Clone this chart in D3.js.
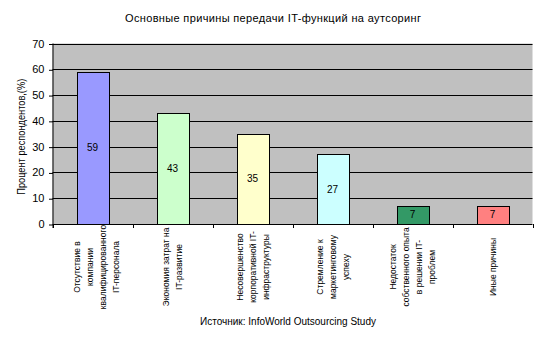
<!DOCTYPE html>
<html>
<head>
<meta charset="utf-8">
<script src="https://cdn.jsdelivr.net/npm/d3@7"></script>
<style>
  html, body { margin: 0; padding: 0; background: #ffffff; }
  svg { display: block; font-family: Arial, "Liberation Sans", sans-serif; }
</style>
</head>
<body>
<svg id="chart" width="550" height="337"></svg>
<script>
const categories = [
  ["Отсутствие в", "компании", "квалифицированного", "IT-персонала"],
  ["Экономия затрат на", "IT-развитие"],
  ["Несовершенство", "корпоративной IT-", "инфраструктуры"],
  ["Стремление к", "маркетинговому", "успеху"],
  ["Недостаток", "собственного опыта", "в решении IT-", "проблем"],
  ["Иные причины"]
];
const values = [59, 43, 35, 27, 7, 7];
const barColors = ["#9999FF", "#CCFFCC", "#FFFFCC", "#CCFFFF", "#339966", "#FF8080"];
const yTicks = [0, 10, 20, 30, 40, 50, 60, 70];
const titleText = "Основные причины передачи IT-функций на аутсоринг";
const yLabel = "Процент респондентов,(%)";
const sourceText = "Источник: InfoWorld Outsourcing Study";

const svg = d3.select("#chart");
const pLeft = 52.5, pRight = 532.5, pTop = 43.5, pBottom = 224;

const x = d3.scaleBand().domain(d3.range(categories.length)).range([pLeft, pRight]).paddingInner(0.6).paddingOuter(0.3);
const xCat = d3.scaleBand().domain(d3.range(categories.length)).range([pLeft, pRight]);
const y = d3.scaleLinear().domain([0, 70]).range([pBottom, pTop]);

// plot background
svg.append("rect").attr("x", pLeft).attr("y", pTop).attr("width", pRight - pLeft).attr("height", pBottom - pTop).attr("fill", "#C0C0C0");

// gridlines
svg.append("g").selectAll("line").data(yTicks.filter(d => d > 0)).join("line")
  .attr("x1", pLeft).attr("x2", pRight)
  .attr("y1", d => Math.round(y(d)) + 0.5).attr("y2", d => Math.round(y(d)) + 0.5)
  .attr("stroke", "#000").attr("stroke-width", 1);

// bars
svg.append("g").selectAll("rect").data(values).join("rect")
  .attr("x", (d, i) => Math.round(x(i)) + 0.5)
  .attr("y", d => Math.round(y(d)) + 0.5)
  .attr("width", Math.round(x.bandwidth()))
  .attr("height", d => Math.round(y(0)) - Math.round(y(d)))
  .attr("fill", (d, i) => barColors[i])
  .attr("stroke", "#000").attr("stroke-width", 1);

// value labels
svg.append("g").selectAll("text").data(values).join("text")
  .attr("x", (d, i) => x(i) + x.bandwidth() / 2)
  .attr("y", d => (y(d) + y(0)) / 2 + 3.5)
  .attr("text-anchor", "middle").attr("font-size", 10).attr("fill", "#000")
  .text(d => d);

// y axis
const yAxis = d3.axisLeft(y).tickValues(yTicks).tickSize(4).tickPadding(3).tickFormat(d3.format("d"));
const gy = svg.append("g").attr("transform", `translate(${pLeft},0)`).call(yAxis);
gy.select(".domain").attr("d", `M0.5,${pTop}V${pBottom + 4}`).attr("stroke", "#000");
gy.selectAll(".tick line").attr("stroke", "#000").attr("transform", "translate(0.5,0.5)");
gy.selectAll(".tick text").attr("font-size", 11).attr("font-family", "Arial, 'Liberation Sans', sans-serif").attr("fill", "#000").attr("dx", -1);

// x axis
const xAxis = d3.axisBottom(xCat).tickValues([]).tickSizeOuter(0);
const gx = svg.append("g").attr("transform", `translate(0,${pBottom})`).call(xAxis);
gx.select(".domain").attr("stroke", "#000").attr("d", `M${pLeft},0.5H${pRight}`);
gx.append("g").selectAll("line").data(d3.range(categories.length + 1)).join("line")
  .attr("x1", i => Math.round(pLeft + i * xCat.step()) + 0.5)
  .attr("x2", i => Math.round(pLeft + i * xCat.step()) + 0.5)
  .attr("y1", 0).attr("y2", 4).attr("stroke", "#000");

// category labels
const catG = svg.append("g");
categories.forEach((lines, i) => {
  const cx = xCat(i) + xCat.bandwidth() / 2 + (i === 0 ? 4 : 0);
  const t = catG.append("text")
    .attr("transform", `translate(${cx},267) rotate(-90)`)
    .attr("text-anchor", "middle").attr("font-size", 8.5).attr("fill", "#000");
  lines.forEach((ln, j) => {
    t.append("tspan").attr("x", 0)
      .attr("y", (j - (lines.length - 1) / 2) * 13 + 3)
      .text(ln);
  });
});

// title
svg.append("text").attr("x", 273).attr("y", 21.5).attr("text-anchor", "middle")
  .attr("font-size", 11).attr("fill", "#000")
  .attr("textLength", 296).attr("lengthAdjust", "spacing").text(titleText);

// y label
svg.append("text").attr("transform", `translate(24.5,${(pTop + pBottom) / 2 + 3}) rotate(-90)`)
  .attr("text-anchor", "middle").attr("font-size", 10).attr("fill", "#000")
  .attr("textLength", 116).attr("lengthAdjust", "spacingAndGlyphs").text(yLabel);

// source
svg.append("text").attr("x", 288).attr("y", 325).attr("text-anchor", "middle")
  .attr("font-size", 10).attr("fill", "#000").text(sourceText);
</script>
</body>
</html>
